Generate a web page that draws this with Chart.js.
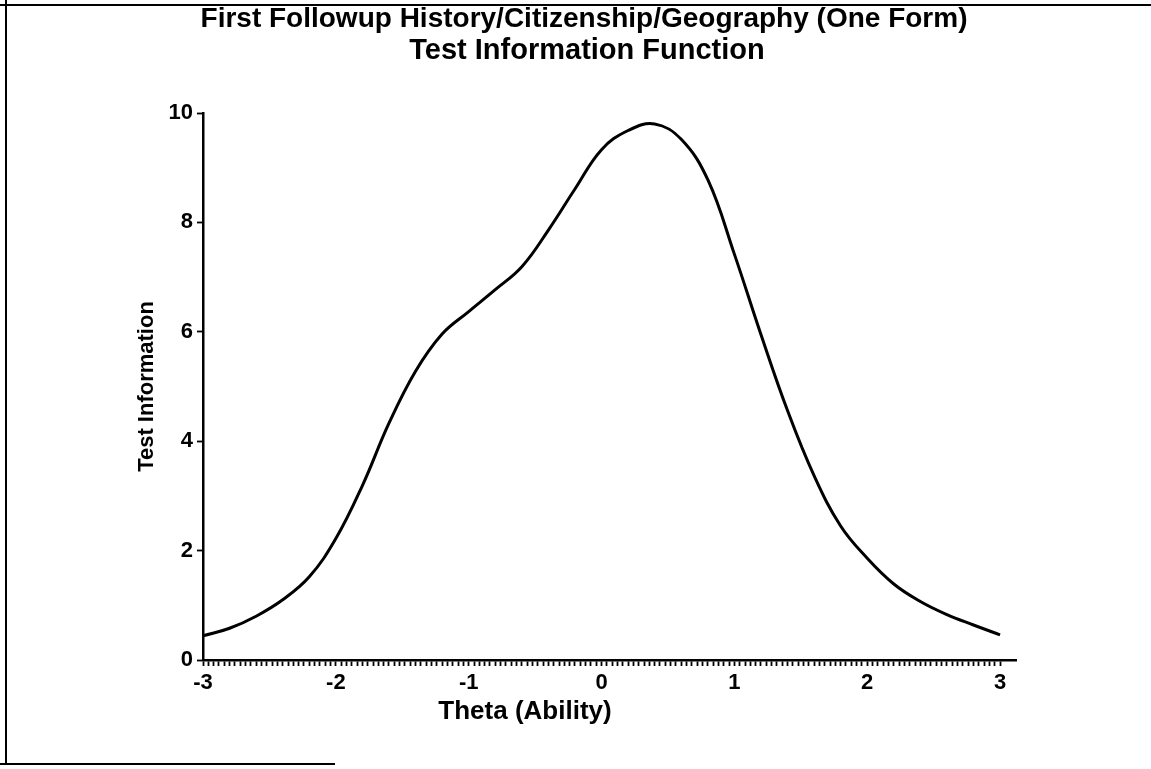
<!DOCTYPE html>
<html>
<head>
<meta charset="utf-8">
<script src="https://cdn.jsdelivr.net/npm/chart.js@4.4.0/dist/chart.umd.min.js"></script>
<style>
  html, body { margin: 0; padding: 0; background: #fff; }
  #wrap { width: 1151px; height: 769px; position: relative; }
</style>
</head>
<body>
<div id="wrap"><canvas id="infoChart"></canvas></div>
<script>
// Chart data
const titleLines = [
  "First Followup History/Citizenship/Geography (One Form)",
  "Test Information Function"
];
const xAxisTitle = "Theta (Ability)";
const yAxisTitle = "Test Information";

const thetaValues = [
  -3.0, -2.8, -2.6, -2.4, -2.2, -2.0, -1.8, -1.6, -1.4, -1.2, -1.0,
  -0.8, -0.6, -0.4, -0.2, 0.0, 0.2, 0.4, 0.6, 0.8, 1.0,
  1.2, 1.4, 1.6, 1.8, 2.0, 2.2, 2.4, 2.6, 2.8, 3.0
];
const infoValues = [
  0.44, 0.58, 0.80, 1.10, 1.52, 2.22, 3.19, 4.33, 5.28, 5.96, 6.37,
  6.77, 7.19, 7.86, 8.61, 9.33, 9.68, 9.80, 9.52, 8.78, 7.42,
  5.95, 4.56, 3.37, 2.45, 1.86, 1.39, 1.07, 0.83, 0.64, 0.46
];

const xTickLabels = [-3, -2, -1, 0, 1, 2, 3];
const yTickLabels = [0, 2, 4, 6, 8, 10];
const xMinorStep = 0.04;

const FONT = "'Liberation Sans', Arial, Helvetica, sans-serif";

// scanned page frame, titles and x axis title
const framePlugin = {
  id: "frame",
  beforeDraw(chart) {
    const ctx = chart.ctx;
    ctx.save();
    ctx.fillStyle = "#fff";
    ctx.fillRect(0, 0, chart.width, chart.height);
    ctx.strokeStyle = "#000";
    ctx.lineWidth = 2;
    ctx.beginPath();
    ctx.moveTo(0, 5); ctx.lineTo(chart.width, 5);
    ctx.moveTo(6, 0); ctx.lineTo(6, 765);
    ctx.moveTo(0, 764); ctx.lineTo(335, 764);
    ctx.stroke();
    ctx.restore();
  },
  afterDraw(chart) {
    const ctx = chart.ctx;
    ctx.save();
    ctx.fillStyle = "#000";
    ctx.textAlign = "center";
    ctx.textBaseline = "middle";
    ctx.font = "bold 28px " + FONT;
    ctx.fillText(titleLines[0], 584, 19);
    ctx.font = "bold 29px " + FONT;
    ctx.fillText(titleLines[1], 587, 51);
    ctx.font = "bold 26px " + FONT;
    ctx.fillText(xAxisTitle, 525, 712);
    ctx.restore();
  }
};

const ctx = document.getElementById("infoChart");

new Chart(ctx, {
  type: "line",
  data: {
    datasets: [
      {
        data: thetaValues.map((t, i) => ({ x: t, y: infoValues[i] })),
        borderColor: "#000",
        borderWidth: 3,
        pointRadius: 0,
        fill: false,
        tension: 0.4,
      },
    ],
  },
  options: {
    responsive: true,
    maintainAspectRatio: false,
    animation: false,
    layout: {
      padding: { left: 0, right: 135, top: 113, bottom: 0 },
    },
    plugins: {
      legend: { display: false },
      tooltip: { enabled: false },
      title: { display: false },
    },
    scales: {
      x: {
        type: "linear",
        min: -3,
        max: 3.12,
        afterBuildTicks(scale) {
          const ticks = [];
          for (let i = 0; i <= 150; i++) {
            ticks.push({ value: Math.round((-3 + i * xMinorStep) * 100) / 100 });
          }
          scale.ticks = ticks;
        },
        afterFit(scale) {
          scale.height = 109;
        },
        grid: {
          display: true,
          drawOnChartArea: false,
          drawTicks: true,
          tickLength: 6,
          tickWidth: 1.8,
          tickColor: "#000",
        },
        border: { display: true, color: "#000", width: 2.5 },
        ticks: {
          autoSkip: false,
          maxRotation: 0,
          padding: 4,
          color: "#000",
          font: { family: FONT, size: 22, weight: "bold" },
          callback: (v) => (xTickLabels.includes(v) ? String(v) : ""),
        },
      },
      y: {
        min: 0,
        max: 10,
        afterBuildTicks(scale) {
          scale.ticks = yTickLabels.map((v) => ({ value: v }));
        },
        afterFit(scale) {
          scale.width = 203;
        },
        grid: {
          display: true,
          drawOnChartArea: false,
          drawTicks: true,
          tickLength: 6,
          tickWidth: 1.8,
          tickColor: "#000",
        },
        border: { display: true, color: "#000", width: 2.5 },
        ticks: {
          padding: 4,
          color: "#000",
          font: { family: FONT, size: 22, weight: "bold" },
        },
        title: {
          display: true,
          text: yAxisTitle,
          color: "#000",
          font: { family: FONT, size: 22, weight: "bold" },
          padding: { top: 134, bottom: 0 },
        },
      },
    },
  },
  plugins: [framePlugin],
});
</script>
</body>
</html>
